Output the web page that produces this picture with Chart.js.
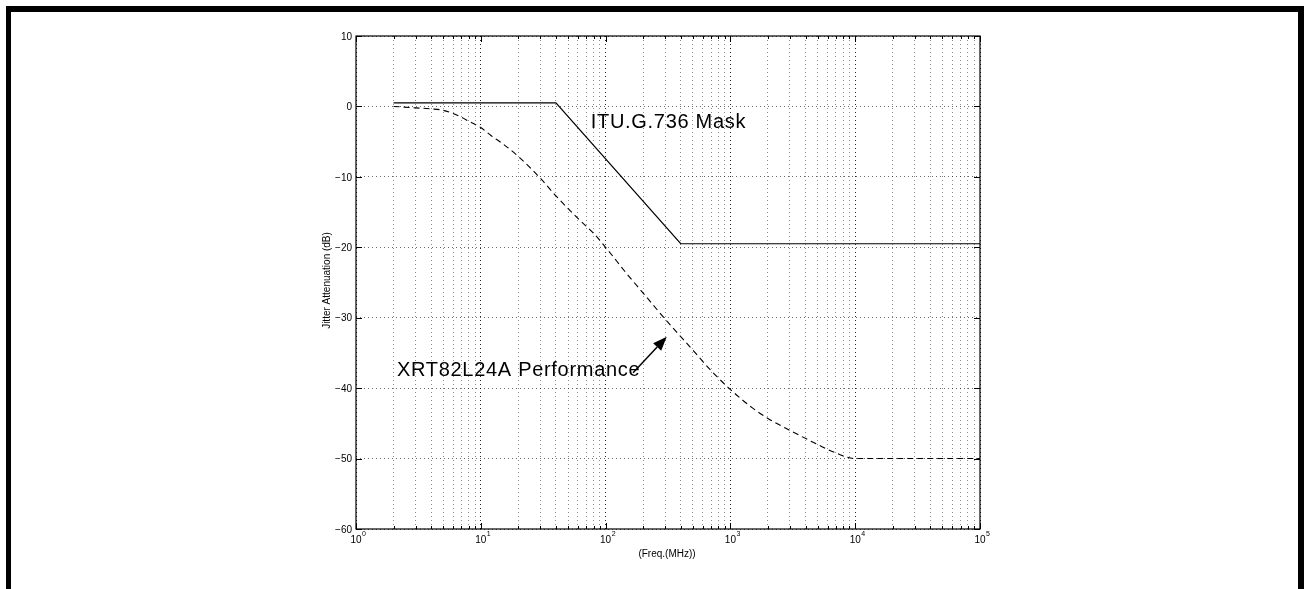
<!DOCTYPE html>
<html>
<head>
<meta charset="utf-8">
<title>Jitter Attenuation</title>
<script src="https://cdn.jsdelivr.net/npm/chart.js@4.4.1/dist/chart.umd.min.js"></script>
<style>
    html, body { margin: 0; padding: 0; background: #fff; }
    #wrap { position: relative; width: 1304px; height: 589px; overflow: hidden; }
    #frame {
        position: absolute; left: 6px; top: 6px; width: 1287px; height: 640px;
        border-top: 6px solid #000; border-left: 5px solid #000; border-right: 6px solid #000;
        pointer-events: none;
    }
</style>
</head>
<body>
<div id="wrap">
    <canvas id="jitterChart" width="1304" height="589"></canvas>
    <div id="frame"></div>
</div>
<script>
// ITU.G.736 mask (solid line)
const maskFreq = [2, 40, 400, 100000];
const maskDb = [0.5, 0.5, -19.5, -19.5];

// XRT82L24A measured performance (dashed line)
const perfFreq = [2, 3, 4, 5, 6, 7, 8, 10, 12, 15, 20, 30, 40, 60, 80, 100,
    150, 200, 300, 500, 700, 1000, 1500, 2000, 3000, 5000, 7000, 10000, 100000];
const perfDb = [0, -0.2, -0.35, -0.55, -1.0, -1.55, -2.1, -3.0, -4.1, -5.3, -7.1, -10.2, -12.7, -15.9, -18.0, -20.0,
    -23.9, -26.5, -30.2, -34.6, -37.5, -40.2, -42.8, -44.3, -46.0, -48.0, -49.2, -50, -50];

// axes
const yTicks = [10, 0, -10, -20, -30, -40, -50, -60];
const yTickLabels = ['10', '0', '\u221210', '\u221220', '\u221230', '\u221240', '\u221250', '\u221260'];
const xExponents = [0, 1, 2, 3, 4, 5];
const xTitle = '(Freq.(MHz))';
const yTitle = 'Jitter Attenuation (dB)';

// annotations (anchored in data space)
const maskLabel = { text: 'ITU.G.736 Mask', x: 76, y: -3.1 };
const perfLabel = { text: 'XRT82L24A Performance', x: 2.13, y: -38.3 };
const arrowFrom = { x: 166, y: -37.8 };
const arrowTo = { x: 309, y: -32.7 };

// gridline positions: 1..9 x 10^k
const xGridValues = [];
xExponents.forEach(e => {
    if (e === xExponents[xExponents.length - 1]) {
        xGridValues.push(Math.pow(10, e));
        return;
    }
    for (let m = 1; m <= 9; m++) xGridValues.push(m * Math.pow(10, e));
});

function toPoints(xs, ys) {
    return xs.map((v, i) => ({ x: v, y: ys[i] }));
}

function isDecade(v) {
    const l = Math.log10(v);
    return Math.abs(l - Math.round(l)) < 1e-9;
}

const FONT = '"Liberation Sans", Arial, Helvetica, sans-serif';

// MATLAB style box, inner ticks, labels and annotations
const matlabAxes = {
    id: 'matlabAxes',
    afterDraw(chart) {
        const { ctx, chartArea: a, scales: { x, y } } = chart;
        ctx.save();

        // box
        ctx.strokeStyle = '#000';
        ctx.lineWidth = 1.2;
        ctx.setLineDash([]);
        ctx.strokeRect(a.left, a.top, a.right - a.left, a.bottom - a.top);

        // inner ticks
        ctx.lineWidth = 1;
        ctx.beginPath();
        xGridValues.forEach(v => {
            const px = Math.round(x.getPixelForValue(v)) + 0.5;
            const len = isDecade(v) ? 6 : 3;
            ctx.moveTo(px, a.bottom); ctx.lineTo(px, a.bottom - len);
            ctx.moveTo(px, a.top); ctx.lineTo(px, a.top + len);
        });
        yTicks.forEach(v => {
            const py = Math.round(y.getPixelForValue(v)) + 0.5;
            ctx.moveTo(a.left, py); ctx.lineTo(a.left + 6, py);
            ctx.moveTo(a.right, py); ctx.lineTo(a.right - 6, py);
        });
        ctx.stroke();

        // y tick labels
        ctx.fillStyle = '#000';
        ctx.font = '10px ' + FONT;
        ctx.textAlign = 'right';
        ctx.textBaseline = 'middle';
        yTicks.forEach((v, i) => {
            ctx.fillText(yTickLabels[i], a.left - 4, y.getPixelForValue(v) + 1);
        });

        // x tick labels 10^n
        ctx.textBaseline = 'alphabetic';
        xExponents.forEach(e => {
            const px = x.getPixelForValue(Math.pow(10, e));
            ctx.font = '10px ' + FONT;
            ctx.textAlign = 'center';
            ctx.fillText('10', px, a.bottom + 14);
            const w = ctx.measureText('10').width;
            ctx.font = '7px ' + FONT;
            ctx.textAlign = 'left';
            ctx.fillText(String(e), px + w / 2 + 0.5, a.bottom + 7);
        });

        // axis titles
        ctx.font = '10px ' + FONT;
        ctx.textAlign = 'center';
        ctx.textBaseline = 'middle';
        ctx.fillText(xTitle, (a.left + a.right) / 2 - 1, a.bottom + 25);
        ctx.save();
        ctx.translate(a.left - 29, (a.top + a.bottom) / 2 - 2);
        ctx.rotate(-Math.PI / 2);
        ctx.fillText(yTitle, 0, 0);
        ctx.restore();

        // annotation texts
        ctx.font = '20px ' + FONT;
        ctx.textAlign = 'left';
        ctx.textBaseline = 'alphabetic';
        if ('letterSpacing' in ctx) ctx.letterSpacing = '0.7px';
        [maskLabel, perfLabel].forEach(l => {
            ctx.fillText(l.text, x.getPixelForValue(l.x), y.getPixelForValue(l.y));
        });
        if ('letterSpacing' in ctx) ctx.letterSpacing = '0px';

        // arrow
        const x0 = x.getPixelForValue(arrowFrom.x), y0 = y.getPixelForValue(arrowFrom.y);
        const x1 = x.getPixelForValue(arrowTo.x), y1 = y.getPixelForValue(arrowTo.y);
        const ang = Math.atan2(y1 - y0, x1 - x0);
        const headLen = 14, headW = 5.5;
        const bx = x1 - headLen * Math.cos(ang), by = y1 - headLen * Math.sin(ang);
        ctx.lineWidth = 1.5;
        ctx.beginPath();
        ctx.moveTo(x0, y0);
        ctx.lineTo(bx, by);
        ctx.stroke();
        ctx.beginPath();
        ctx.moveTo(x1, y1);
        ctx.lineTo(bx + headW * Math.sin(ang), by - headW * Math.cos(ang));
        ctx.lineTo(bx - headW * Math.sin(ang), by + headW * Math.cos(ang));
        ctx.closePath();
        ctx.fill();

        ctx.restore();
    }
};

const ctx = document.getElementById('jitterChart').getContext('2d');
const jitterChart = new Chart(ctx, {
    type: 'line',
    data: {
        datasets: [
            {
                label: 'ITU.G.736 Mask',
                data: toPoints(maskFreq, maskDb),
                borderColor: '#000',
                borderWidth: 1.2,
                pointRadius: 0,
                tension: 0,
                fill: false
            },
            {
                label: 'XRT82L24A Performance',
                data: toPoints(perfFreq, perfDb),
                borderColor: '#000',
                borderWidth: 1.1,
                borderDash: [6, 4],
                pointRadius: 0,
                cubicInterpolationMode: 'monotone',
                fill: false
            }
        ]
    },
    options: {
        responsive: false,
        animation: false,
        events: [],
        layout: {
            padding: { left: 356, right: 324, top: 36, bottom: 60 }
        },
        scales: {
            x: {
                type: 'logarithmic',
                min: 1,
                max: 100000,
                afterBuildTicks: scale => {
                    scale.ticks = xGridValues.map(v => ({ value: v, major: isDecade(v) }));
                },
                ticks: { display: false },
                grid: {
                    drawTicks: false,
                    lineWidth: 1,
                    color: c => (c.tick && isDecade(c.tick.value)) ? 'rgba(0,0,0,0.85)' : 'rgba(0,0,0,0.45)'
                },
                border: { display: false, dash: [1, 3] }
            },
            y: {
                type: 'linear',
                min: -60,
                max: 10,
                ticks: { display: false, stepSize: 10 },
                grid: {
                    drawTicks: false,
                    lineWidth: 1,
                    color: 'rgba(0,0,0,0.6)'
                },
                border: { display: false, dash: [1, 3] }
            }
        },
        plugins: {
            legend: { display: false },
            tooltip: { enabled: false }
        }
    },
    plugins: [matlabAxes]
});
</script>
</body>
</html>
